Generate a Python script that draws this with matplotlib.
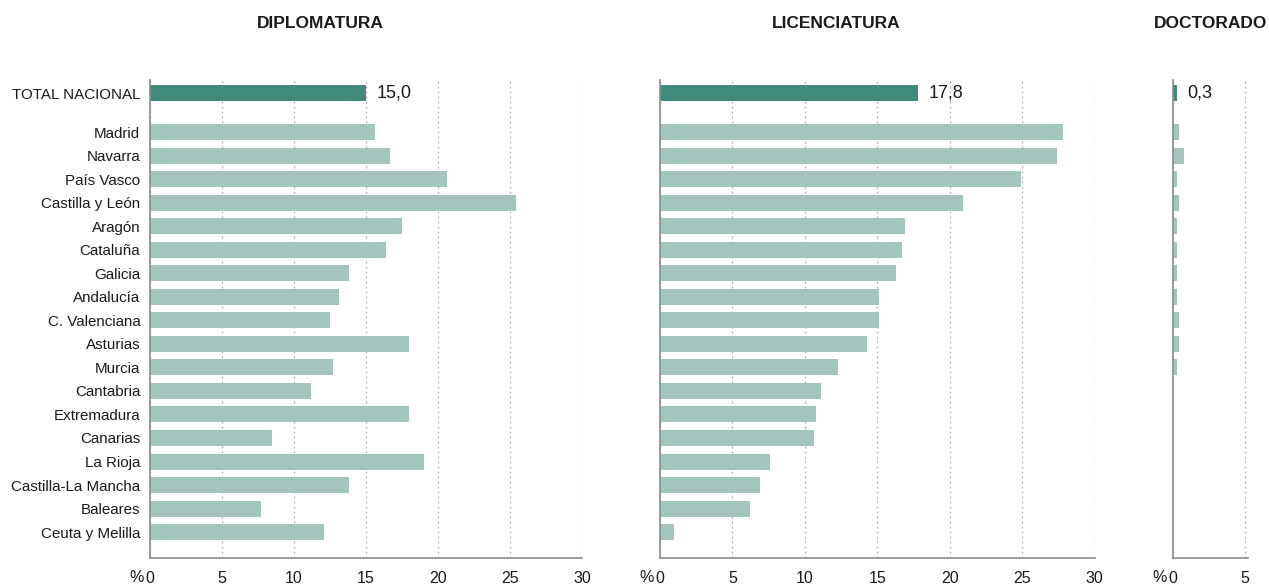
import matplotlib
matplotlib.use("Agg")
import matplotlib.pyplot as plt

plt.rcParams['font.family'] = ["Liberation Sans", "DejaVu Sans"]

regions = ["Madrid", "Navarra", "País Vasco", "Castilla y León", "Aragón", "Cataluña",
           "Galicia", "Andalucía", "C. Valenciana", "Asturias", "Murcia", "Cantabria",
           "Extremadura", "Canarias", "La Rioja", "Castilla-La Mancha", "Baleares",
           "Ceuta y Melilla"]
total_label = "TOTAL NACIONAL"

diplomatura = [15.6, 16.7, 20.6, 25.4, 17.5, 16.4, 13.8, 13.1, 12.5, 18.0, 12.7, 11.2,
               18.0, 8.5, 19.0, 13.8, 7.7, 12.1]
licenciatura = [27.8, 27.4, 24.9, 20.9, 16.9, 16.7, 16.3, 15.1, 15.1, 14.3, 12.3, 11.1,
                10.8, 10.6, 7.6, 6.9, 6.2, 1.0]
doctorado = [0.4, 0.8, 0.3, 0.4, 0.3, 0.3, 0.3, 0.3, 0.4, 0.4, 0.3, 0.0,
             0.0, 0.0, 0.0, 0.0, 0.0, 0.0]
totals = [15.0, 17.8, 0.3]
total_text = ["15,0", "17,8", "0,3"]
titles = ["DIPLOMATURA", "LICENCIATURA", "DOCTORADO"]
xticks_big = [0, 5, 10, 15, 20, 25, 30]
xticks_small = [0, 5]

W, H = 1269, 584
fig = plt.figure(figsize=(W / 100, H / 100), dpi=100)

n = len(regions)
ypos = [n - 1 - i for i in range(n)]
ytot = (n - 1) + 1.64

dark = "#3f8a7b"
light = "#a2c5bd"
txt = "#1a1a1a"

bottom_px, top_px = 558, 80
panels = [
    (150, 582, (0, 30), xticks_big, diplomatura, 320),
    (660, 1094.6, (0, 30), xticks_big, licenciatura, 836),
    (1172.8, 1248, (0, 5.2), xticks_small, doctorado, 1211),
]

for k, (x0, x1, xl, ticks, vals, tx) in enumerate(panels):
    ax = fig.add_axes([x0 / W, (H - bottom_px) / H, (x1 - x0) / W, (bottom_px - top_px) / H])
    ax.barh(ypos, vals, height=0.68, color=light, zorder=2)
    ax.barh([ytot], [totals[k]], height=0.68, color=dark, zorder=2)
    ax.annotate(total_text[k], (totals[k], ytot), xytext=(7.5, 0), textcoords="offset points",
                va="center", ha="left", fontsize=13, color=txt)
    ax.set_xlim(*xl)
    ax.set_ylim(-1.1, ytot + 0.57)
    ax.set_xticks(ticks)
    ax.set_xticklabels([str(t) for t in ticks], fontsize=11.5, color=txt)
    ax.tick_params(axis="x", length=0, pad=9.5)
    ax.grid(axis="x", linestyle=(0, (1.5, 2.5)), color="#aaaaaa", linewidth=0.9, zorder=0)
    for s in ["top", "right"]:
        ax.spines[s].set_visible(False)
    for s in ["left", "bottom"]:
        ax.spines[s].set_color("#8c8c8c")
        ax.spines[s].set_linewidth(1.2)
    if k == 0:
        ax.set_yticks(ypos + [ytot])
        ax.set_yticklabels(regions + [total_label], fontsize=10.9, color=txt)
        ax.tick_params(axis="y", length=0, pad=7)
    else:
        ax.set_yticks([])
    ax.annotate("%", (0, 0), xycoords="axes fraction", xytext=(-4.5, -14),
                textcoords="offset points", ha="right", va="center",
                fontsize=11.5, color=txt)
    fig.text(tx / W, 1 - 23 / H, titles[k], ha="center", va="center",
             fontsize=12.5, fontweight="bold", color=txt)

fig.savefig("out.png", dpi=100)
